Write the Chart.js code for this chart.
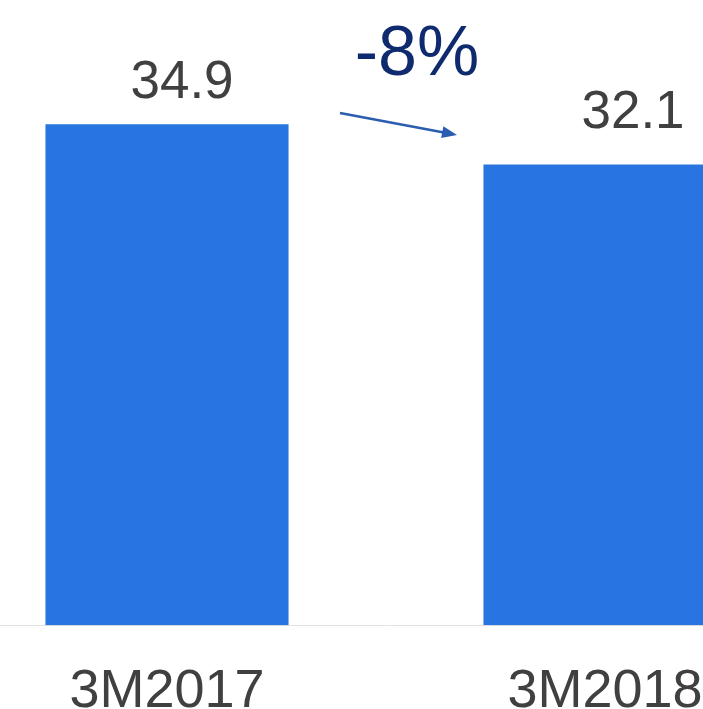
<!DOCTYPE html>
<html>
<head>
<meta charset="utf-8">
<script src="https://cdn.jsdelivr.net/npm/chart.js@4.4.1/dist/chart.umd.min.js"></script>
<style>
    html, body {
        margin: 0;
        padding: 0;
        background: #ffffff;
        overflow: hidden;
        width: 703px;
        height: 709px;
    }
    /* the second bar runs off the right edge in the reference */
    #barChart {
        position: absolute;
        left: -52px;
        top: 0;
    }
</style>
</head>
<body>
<canvas id="barChart" width="876" height="760"></canvas>
<script>
const categories = ['3M2017', '3M2018'];
const values = [34.9, 32.1];
const valueLabels = ['34.9', '32.1'];
const changeLabel = '-8%';

// value labels above bars + change arrow
const annotatePlugin = {
    id: 'annotate',
    afterDatasetsDraw(chart) {
        const ctx = chart.ctx;
        const bars = chart.getDatasetMeta(0).data;
        const labelOffsets = [[15, -26], [28, -36]];

        ctx.save();
        ctx.font = '53px "Liberation Sans", Arial, sans-serif';
        ctx.fillStyle = '#404040';
        ctx.textAlign = 'center';
        ctx.textBaseline = 'alphabetic';
        bars.forEach((bar, i) => {
            ctx.fillText(valueLabels[i], bar.x + labelOffsets[i][0], bar.y + labelOffsets[i][1]);
        });

        const mid = (bars[0].x + bars[1].x) / 2;
        ctx.font = '70px "Liberation Sans", Arial, sans-serif';
        ctx.fillStyle = '#0f2a6e';
        ctx.fillText(changeLabel, mid + 31, 75);

        // arrow
        const x1 = mid - 46, y1 = 113;
        const x2 = mid + 71, y2 = 135;
        const ang = Math.atan2(y2 - y1, x2 - x1);
        ctx.strokeStyle = '#2a5db0';
        ctx.fillStyle = '#2a5db0';
        ctx.lineWidth = 2.5;
        ctx.beginPath();
        ctx.moveTo(x1, y1);
        ctx.lineTo(x2 - 12 * Math.cos(ang), y2 - 12 * Math.sin(ang));
        ctx.stroke();
        ctx.beginPath();
        ctx.moveTo(x2, y2);
        ctx.lineTo(x2 - 15 * Math.cos(ang) + 6 * Math.sin(ang), y2 - 15 * Math.sin(ang) - 6 * Math.cos(ang));
        ctx.lineTo(x2 - 15 * Math.cos(ang) - 6 * Math.sin(ang), y2 - 15 * Math.sin(ang) + 6 * Math.cos(ang));
        ctx.closePath();
        ctx.fill();
        ctx.restore();
    }
};

const ctx = document.getElementById('barChart').getContext('2d');
new Chart(ctx, {
    type: 'bar',
    data: {
        labels: categories,
        datasets: [{
            data: values,
            backgroundColor: '#2874e0',
            borderWidth: 0,
            categoryPercentage: 1,
            barPercentage: 0.555
        }]
    },
    options: {
        responsive: false,
        animation: false,
        devicePixelRatio: 1,
        layout: {
            padding: 0
        },
        plugins: {
            legend: { display: false },
            tooltip: { enabled: false }
        },
        scales: {
            y: {
                display: false,
                min: 0,
                max: 43.55
            },
            x: {
                grid: {
                    display: false,
                    drawTicks: false
                },
                border: {
                    display: true,
                    color: '#e2e2e2',
                    width: 1
                },
                ticks: {
                    color: '#404040',
                    padding: 35,
                    font: {
                        family: '"Liberation Sans", Arial, sans-serif',
                        size: 54
                    }
                }
            }
        }
    },
    plugins: [annotatePlugin]
});
</script>
</body>
</html>
